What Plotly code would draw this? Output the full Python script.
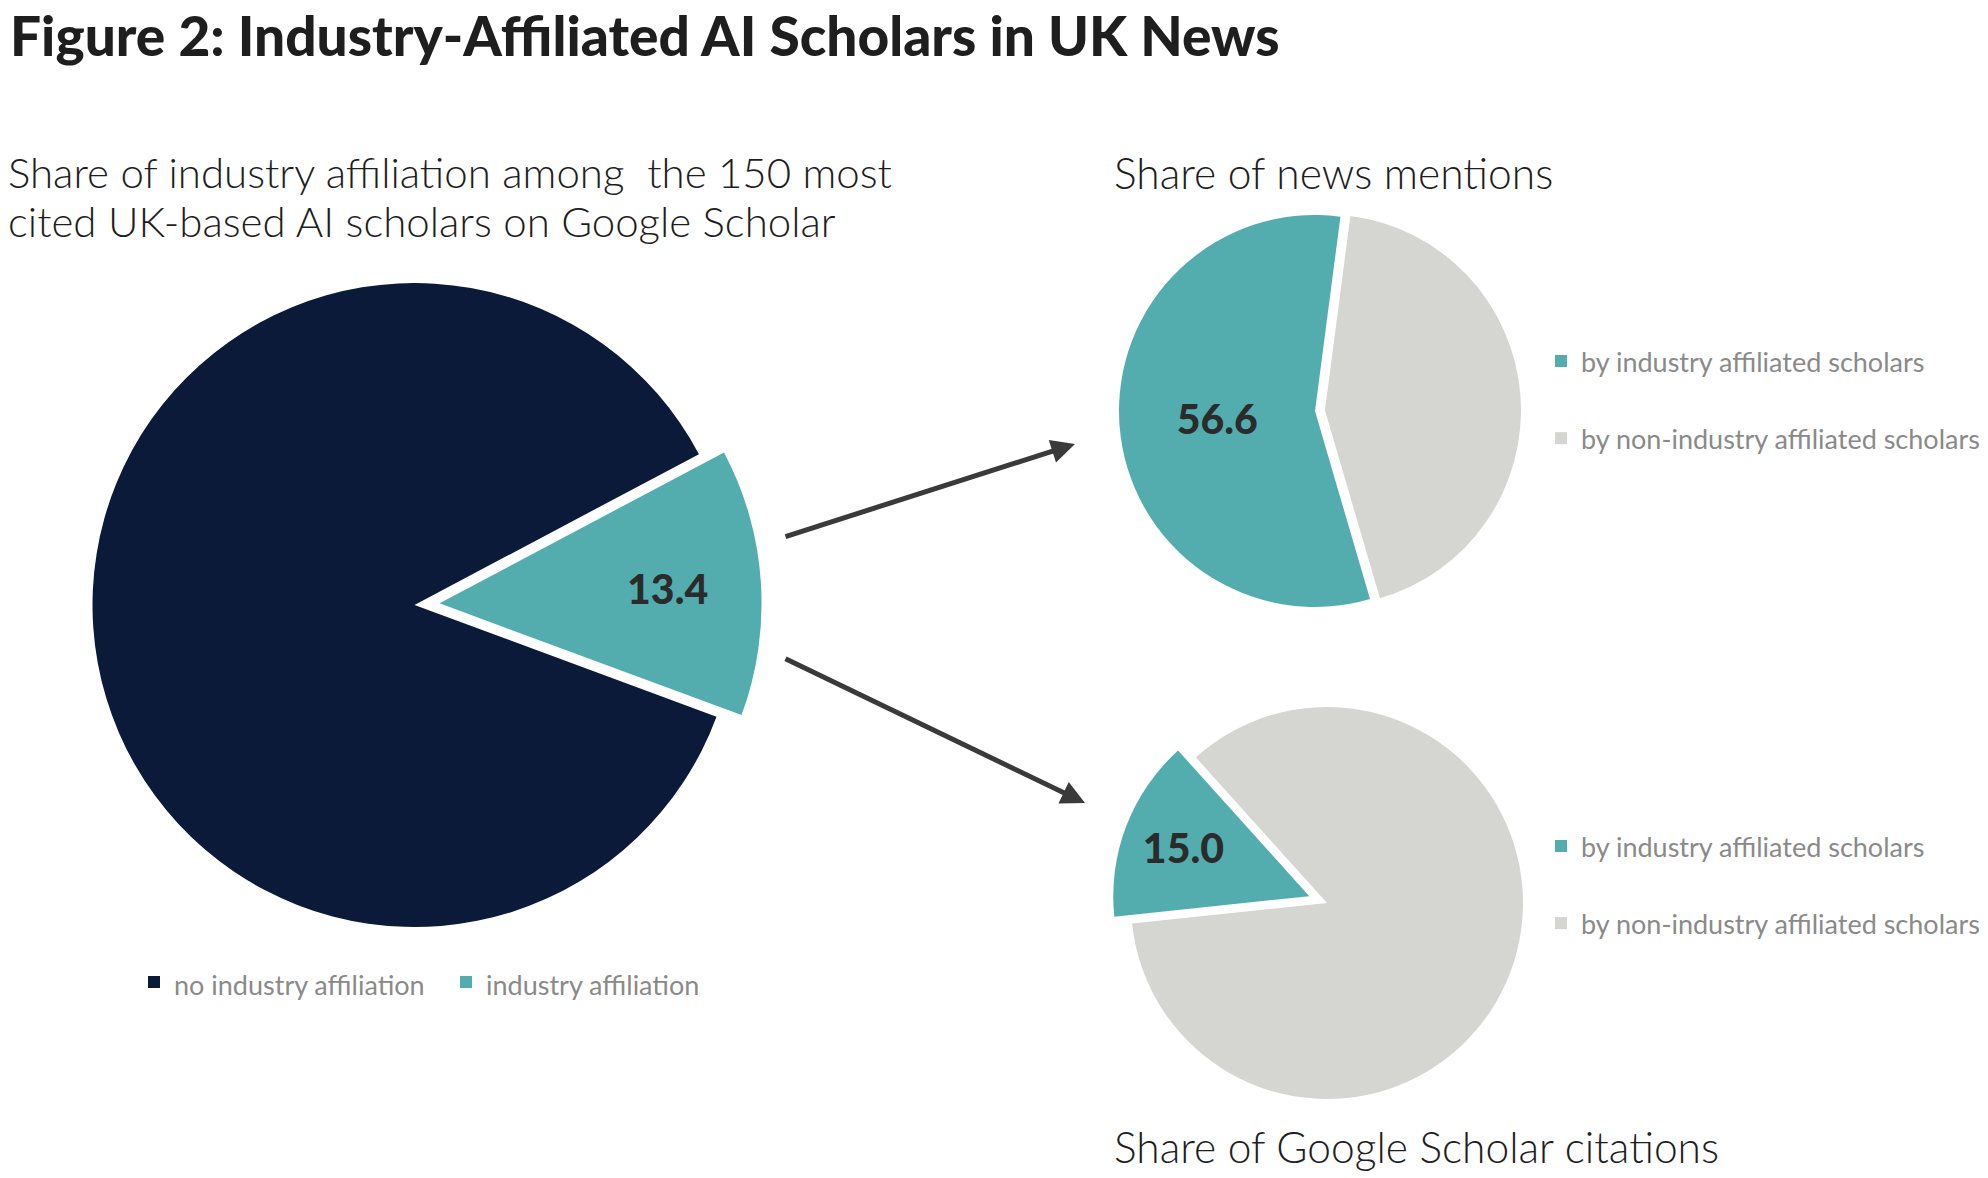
import plotly.graph_objects as go

W, H = 1988, 1178

# ---------------- data ----------------
main_labels = ["no industry affiliation", "industry affiliation"]
main_values = [86.6, 13.4]

news_labels = ["by industry affiliated scholars", "by non-industry affiliated scholars"]
news_values = [56.6, 43.4]

cit_labels = ["by industry affiliated scholars", "by non-industry affiliated scholars"]
cit_values = [15.0, 85.0]

title_text = "Figure 2: Industry-Affiliated AI Scholars in UK News"
left_subtitle_lines = ["Share of industry affiliation among  the 150 most",
                       "cited UK-based AI scholars on Google Scholar"]
news_title = "Share of news mentions"
cit_title = "Share of Google Scholar citations"

# ---------------- style ----------------
NAVY = "#0b1a38"
TEAL = "#53adaf"
GRAY = "#d5d6d1"
LABEL_COLOR = "#2b2b2b"
LEGEND_COLOR = "#8a8a8a"
FONT = "Lato"


def domain(cx, cy, r, pull):
    half = r * (1 + pull)
    return dict(x=[(cx - half) / W, (cx + half) / W],
                y=[1 - (cy + half) / H, 1 - (cy - half) / H])


def leg_label(s, two_line=False, variant=""):
    # variant only changes the markup (not the look) so that the two right-hand
    # pies keep their own legend entries
    t = f'<span style="font-size:27px{variant}">{s}</span>'
    return t + "<br>\u00a0" if two_line else t


label_font = dict(family=FONT, size=41, color=LABEL_COLOR, weight=900)

fig = go.Figure()

# big pie
big_pull = 0.078
fig.add_trace(go.Pie(
    labels=[leg_label(l) for l in main_labels], values=main_values,
    marker=dict(colors=[NAVY, TEAL], line=dict(width=0)),
    sort=False, direction="clockwise", rotation=110.3,
    pull=[0, big_pull],
    texttemplate=["", "%{value:.1f}"], textposition="inside",
    insidetextorientation="horizontal", insidetextfont=label_font,
    domain=domain(414.5, 605, 322, big_pull), legend="legend",
    hovertemplate="%{label}: %{value}%<extra></extra>",
))

# news mentions pie
news_pull = 0.051
fig.add_trace(go.Pie(
    labels=[leg_label(l, True) for l in news_labels], values=news_values,
    marker=dict(colors=[TEAL, GRAY], line=dict(width=0)),
    sort=False, direction="clockwise", rotation=163.7,
    pull=[0, news_pull],
    texttemplate=["%{value:.1f}", ""], textposition="inside",
    insidetextorientation="horizontal", insidetextfont=label_font,
    domain=domain(1315, 411, 196, news_pull), legend="legend2",
    hovertemplate="%{label}: %{value}%<extra></extra>",
))

# citations pie
cit_pull = 0.097
fig.add_trace(go.Pie(
    labels=[leg_label(l, True, ";") for l in cit_labels], values=cit_values,
    marker=dict(colors=[TEAL, GRAY], line=dict(width=0)),
    sort=False, direction="clockwise", rotation=264,
    pull=[cit_pull, 0],
    texttemplate=["%{value:.1f}", ""], textposition="inside",
    insidetextorientation="horizontal", insidetextfont=label_font,
    domain=domain(1327, 903, 196, cit_pull), legend="legend3",
    hovertemplate="%{label}: %{value}%<extra></extra>",
))

left_font = dict(family=FONT, size=42, color="#1e1e1e", weight=300)
right_font = dict(family=FONT, size=42.5, color="#1e1e1e", weight=300)
annotations = [
    dict(text=title_text, x=8 / W, y=1.0, xanchor="left", yanchor="top",
         font=dict(family=FONT, size=55, color="#1e1e1e", weight=900)),
    dict(text=left_subtitle_lines[0], x=6 / W, y=1 - 145 / H, xanchor="left", yanchor="top",
         font=left_font),
    dict(text=left_subtitle_lines[1], x=6 / W, y=1 - 194 / H, xanchor="left", yanchor="top",
         font=left_font),
    dict(text=news_title, x=1112 / W, y=1 - 145 / H, xanchor="left", yanchor="top",
         font=right_font),
    dict(text=cit_title, x=1112 / W, y=1 - 1118.5 / H, xanchor="left", yanchor="top",
         font=right_font),
    # arrows
    dict(text="", x=1075 / W, y=1 - 444 / H, ax=-291, ay=93, showarrow=True,
         arrowhead=2, arrowsize=0.95, arrowwidth=5, arrowcolor="#3a3a3a", standoff=0),
    dict(text="", x=1085 / W, y=1 - 803 / H, ax=-301, ay=-145, showarrow=True,
         arrowhead=2, arrowsize=0.95, arrowwidth=5, arrowcolor="#3a3a3a", standoff=0),
]
for a in annotations:
    a.setdefault("xref", "paper")
    a.setdefault("yref", "paper")
    a.setdefault("showarrow", False)

legend_common = dict(bgcolor="rgba(0,0,0,0)", xanchor="left", yanchor="top",
                     itemclick=False, itemdoubleclick=False)

fig.update_layout(
    width=W, height=H,
    margin=dict(l=0, r=0, t=0, b=0),
    paper_bgcolor="white", plot_bgcolor="white",
    showlegend=True,
    annotations=annotations,
    legend=dict(orientation="h", x=134 / W, y=1 - 953.5 / H,
                font=dict(family=FONT, size=34, color=LEGEND_COLOR),
                entrywidth=267, entrywidthmode="pixels", **legend_common),
    legend2=dict(x=1541 / W, y=1 - 336 / H, valign="top",
                 font=dict(family=FONT, size=28.5, color=LEGEND_COLOR), **legend_common),
    legend3=dict(x=1541 / W, y=1 - 821 / H, valign="top",
                 font=dict(family=FONT, size=28.5, color=LEGEND_COLOR), **legend_common),
)

fig.write_html("out.html")
